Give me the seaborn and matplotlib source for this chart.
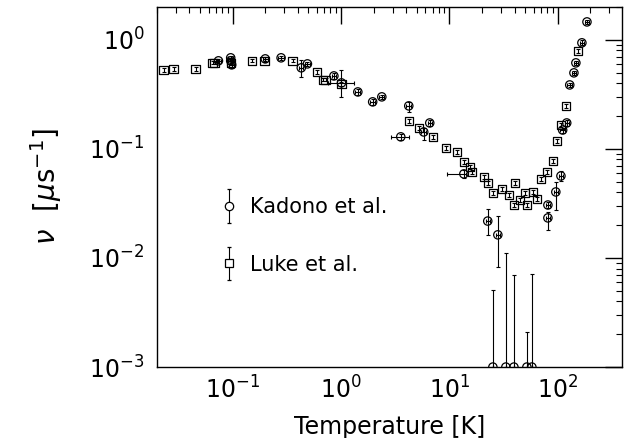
import numpy as np
import pandas as pd
import matplotlib
matplotlib.use("Agg")
import matplotlib.pyplot as plt
import seaborn as sns
from matplotlib.legend_handler import HandlerErrorbar

# ---------------- data ----------------
kadono_T = [0.074, 0.096, 0.096, 0.098, 0.20, 0.28, 0.43, 0.49, 0.86, 1.01,
            1.43, 1.96, 2.38, 3.56, 4.22, 5.80, 6.59, 13.6, 22.6, 28.0,
            25.2, 33.2, 39.4, 51.9, 57.7, 81.1, 81.1, 96.0, 107, 111,
            121, 129, 141, 147, 167, 186]
kadono_nu = [0.642, 0.684, 0.642, 0.590, 0.669, 0.684, 0.554, 0.602, 0.467, 0.403,
             0.333, 0.270, 0.300, 0.129, 0.248, 0.143, 0.173, 0.059, 0.0218, 0.0163,
             0.001, 0.001, 0.001, 0.001, 0.001, 0.0306, 0.0233, 0.0403, 0.0565, 0.149,
             0.173, 0.386, 0.498, 0.615, 0.939, 1.46]
kadono_err_lo = [0.03, 0.03, 0.03, 0.04, 0.03, 0.03, 0.096, 0.03, 0.025, 0.103,
                 0.02, 0.015, 0.015, 0.008, 0.028, 0.023, 0.01, 0.005, 0.0055, 0.008,
                 0.0, 0.0, 0.0, 0.0, 0.0, 0.002, 0.0052, 0.0127, 0.006, 0.008,
                 0.01, 0.02, 0.025, 0.03, 0.05, 0.07]
kadono_err_hi = [0.03, 0.03, 0.03, 0.04, 0.03, 0.03, 0.101, 0.03, 0.025, 0.127,
                 0.02, 0.015, 0.015, 0.008, 0.022, 0.013, 0.01, 0.005, 0.0064, 0.008,
                 0.0041, 0.0101, 0.0060, 0.0011, 0.0061, 0.002, 0.003, 0.0094, 0.006, 0.008,
                 0.01, 0.02, 0.025, 0.03, 0.05, 0.07]
kadono_Terr_lo = [0.004, 0.005, 0.005, 0.005, 0.01, 0.015, 0.02, 0.025, 0.04, 0.25,
                  0.07, 0.1, 0.12, 0.66, 0.2, 0.3, 0.3, 4.1, 1.0, 1.3,
                  0.0, 0.0, 0.0, 0.0, 0.0, 3.5, 3.5, 4.0, 5.0, 5.0,
                  5.0, 6.0, 6.0, 7.0, 8.0, 9.0]
kadono_Terr_hi = [0.004, 0.005, 0.005, 0.005, 0.01, 0.015, 0.02, 0.025, 0.04, 0.30,
                  0.07, 0.1, 0.12, 0.66, 0.2, 0.3, 0.3, 0.5, 1.0, 1.3,
                  0.0, 0.0, 0.0, 0.0, 0.0, 3.5, 3.5, 4.0, 5.0, 5.0,
                  5.0, 6.0, 6.0, 7.0, 8.0, 9.0]

luke_T = [0.0231, 0.0285, 0.0455, 0.0653, 0.0682, 0.096, 0.150, 0.197, 0.358, 0.597,
          0.678, 0.72, 1.01, 4.22, 5.21, 7.03, 9.27, 11.7, 13.6, 15.4,
          16.1, 20.8, 22.6, 25.2, 30.5, 35.3, 40.2, 39.4, 44.7, 49.7,
          51.9, 58.9, 64.1, 69.8, 79.3, 90.2, 98.2, 107, 119, 153]
luke_nu = [0.531, 0.542, 0.542, 0.615, 0.615, 0.615, 0.642, 0.642, 0.642, 0.508,
           0.430, 0.430, 0.395, 0.181, 0.156, 0.129, 0.102, 0.094, 0.076, 0.0684,
           0.0615, 0.0553, 0.0488, 0.0395, 0.043, 0.0379, 0.0488, 0.0306, 0.034, 0.0395,
           0.0306, 0.0403, 0.0348, 0.0531, 0.0615, 0.0776, 0.118, 0.166, 0.248, 0.793]
luke_err = [0.02, 0.02, 0.02, 0.02, 0.02, 0.02, 0.02, 0.02, 0.02, 0.02,
            0.015, 0.015, 0.015, 0.007, 0.006, 0.005, 0.004, 0.004, 0.003, 0.003,
            0.003, 0.002, 0.002, 0.002, 0.002, 0.0015, 0.002, 0.0012, 0.0013, 0.0015,
            0.0012, 0.0015, 0.0013, 0.002, 0.002, 0.003, 0.004, 0.006, 0.009, 0.03]

series_labels = ["Kadono et al.", "Luke et al."]
x_label = "Temperature [K]"
y_label = r"$\nu\ \ [\mu\mathrm{s}^{-1}]$"

# ---------------- plotting ----------------
sns.set_theme(style="white")
plt.rcParams["font.family"] = ["DejaVu Sans"]
plt.rcParams["mathtext.fontset"] = "dejavusans"
plt.rcParams["text.color"] = "black"
plt.rcParams["axes.labelcolor"] = "black"
plt.rcParams["xtick.color"] = "black"
plt.rcParams["ytick.color"] = "black"

df = pd.DataFrame({
    "T": kadono_T + luke_T,
    "nu": kadono_nu + luke_nu,
    "set": [series_labels[0]] * len(kadono_T) + [series_labels[1]] * len(luke_T),
})

fig = plt.figure(figsize=(6.3, 4.38), dpi=100)
ax = fig.add_axes([0.249, 0.162, 0.738, 0.822])
ax.set_xscale("log")
ax.set_yscale("log")

ekw = dict(fmt="none", ecolor="black", elinewidth=0.8, capsize=1.5, capthick=0.8, zorder=2)
ax.errorbar(kadono_T, kadono_nu, yerr=[kadono_err_lo, kadono_err_hi],
            xerr=[kadono_Terr_lo, kadono_Terr_hi], **ekw)
ax.errorbar(luke_T, luke_nu, yerr=luke_err, **ekw)

sns.scatterplot(data=df, x="T", y="nu", style="set",
                markers={series_labels[0]: "o", series_labels[1]: "s"},
                s=36, color="black", facecolor="none", edgecolor="black",
                linewidth=0.9, legend=False, ax=ax, zorder=3)

# legend proxies
h1 = ax.errorbar([np.nan], [np.nan], yerr=[1], fmt="o", ms=6, mfc="white", mec="black",
                 mew=0.9, ecolor="black", elinewidth=0.8, capsize=1.5)
h2 = ax.errorbar([np.nan], [np.nan], yerr=[1], fmt="s", ms=6, mfc="white", mec="black",
                 mew=0.9, ecolor="black", elinewidth=0.8, capsize=1.5)
leg = ax.legend([h1, h2], series_labels, loc="center left",
                bbox_to_anchor=(0.12, 0.364), borderaxespad=0, frameon=False,
                fontsize=15, handlelength=0.8, handletextpad=0.6, labelspacing=1.8,
                numpoints=1, labelcolor="black",
                handler_map={type(h1): HandlerErrorbar(yerr_size=0.8)})

ax.set_xlim(0.02, 390)
ax.set_ylim(1e-3, 2.0)

for s in ax.spines.values():
    s.set_color("black")
    s.set_linewidth(1.0)
ax.tick_params(which="both", direction="in", top=True, right=True, colors="black")
ax.tick_params(which="major", length=12, width=1.0, labelsize=17, pad=7)
ax.tick_params(which="minor", length=4, width=0.8)
ax.tick_params(axis="y", which="major", pad=9)

ax.set_xlabel(x_label, fontsize=17, labelpad=8, color="black")
ax.set_ylabel(y_label, fontsize=20, labelpad=18, color="black")
ax.grid(False)

fig.savefig("out.png", dpi=100, facecolor="white")
